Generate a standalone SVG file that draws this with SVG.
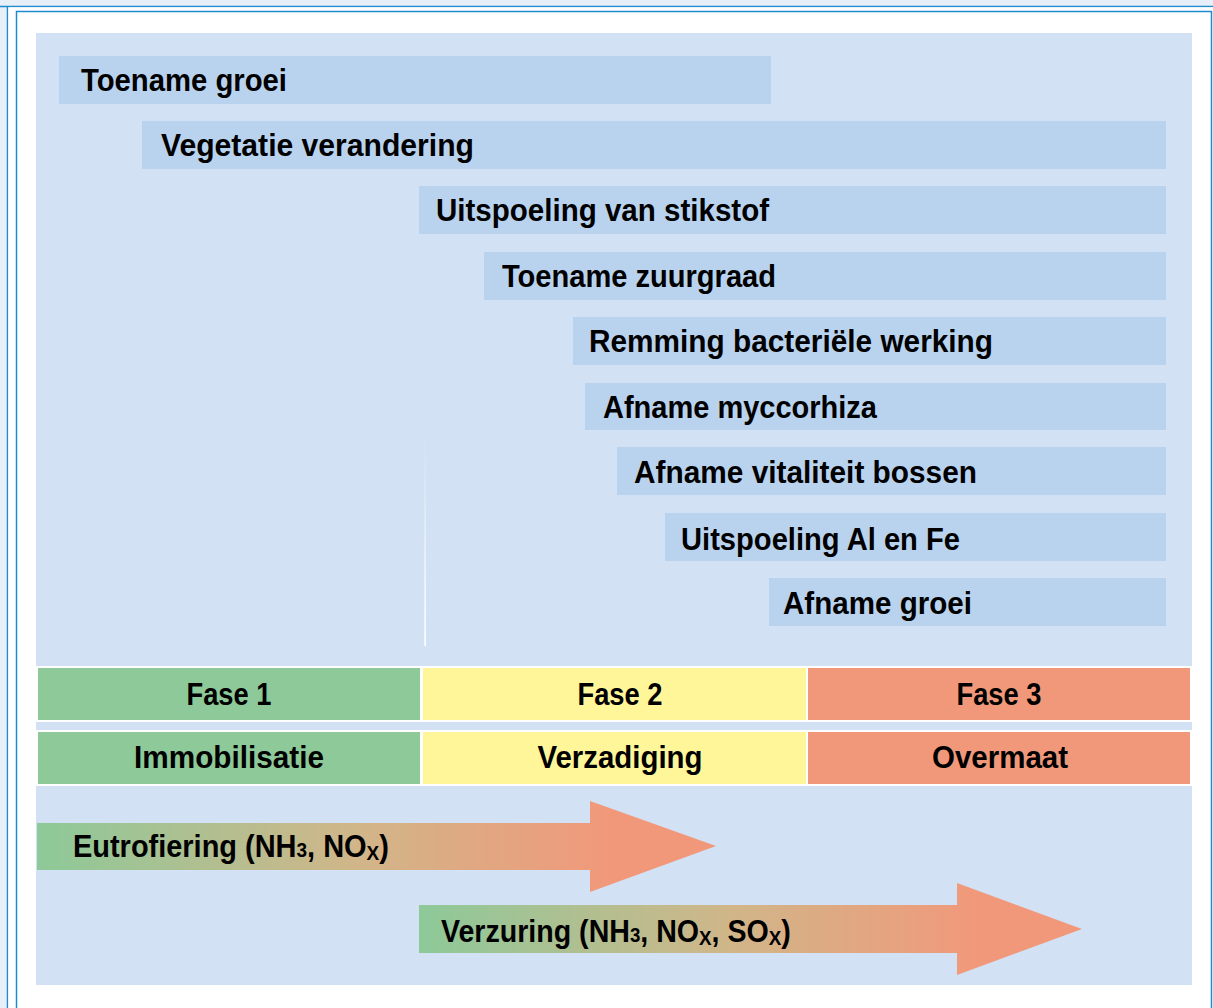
<svg xmlns="http://www.w3.org/2000/svg" width="1213" height="1008" viewBox="0 0 1213 1008">
<defs>
<style>
.bar{fill:#b9d3ef}
.t{font-family:"Liberation Sans",Arial,sans-serif;font-weight:bold;font-size:32px;fill:#000}
.c{text-anchor:middle}
.g{fill:#8dc999;stroke:#fff;stroke-width:2}
.y{fill:#fff69a;stroke:#fff;stroke-width:2}
.r{fill:#f2987a;stroke:#fff;stroke-width:2}
.sub{font-size:21px}
</style>
<linearGradient id="ag" x1="0" y1="0" x2="0.85" y2="0">
<stop offset="0" stop-color="#8dc999"/>
<stop offset="0.55" stop-color="#d0b689"/>
<stop offset="1" stop-color="#f2987a"/>
</linearGradient>
<linearGradient id="vl" x1="0" y1="0" x2="0" y2="1">
<stop offset="0" stop-color="#fff" stop-opacity="0"/>
<stop offset="1" stop-color="#fff" stop-opacity="1"/>
</linearGradient>
</defs>
<rect x="0" y="0" width="1213" height="1008" fill="#e7eff9"/>
<line x1="0" y1="6.5" x2="1213" y2="6.5" stroke="#1e8bd0" stroke-width="1.5"/>
<line x1="7.5" y1="6" x2="7.5" y2="1008" stroke="#1e8bd0" stroke-width="1.5"/>
<rect x="8.3" y="7.3" width="1205" height="1001" fill="#fff"/>
<rect x="16.5" y="11.5" width="1195" height="1010" fill="#fff" stroke="#1e8bd0" stroke-width="1.5"/>
<rect x="36" y="33" width="1156" height="952" fill="#d2e1f4"/>
<rect x="424.3" y="430" width="1.6" height="216" fill="url(#vl)"/>

<g id="bar1"><rect class="bar" x="59" y="56" width="712" height="48"/><text class="t" x="81" y="91" textLength="206" lengthAdjust="spacingAndGlyphs">Toename groei</text></g>
<g id="bar2"><rect class="bar" x="142" y="121" width="1024" height="48"/><text class="t" x="161" y="156" textLength="313" lengthAdjust="spacingAndGlyphs">Vegetatie verandering</text></g>
<g id="bar3"><rect class="bar" x="419" y="186" width="747" height="48"/><text class="t" x="436" y="221" textLength="333" lengthAdjust="spacingAndGlyphs">Uitspoeling van stikstof</text></g>
<g id="bar4"><rect class="bar" x="484" y="252" width="682" height="48"/><text class="t" x="502" y="287" textLength="274" lengthAdjust="spacingAndGlyphs">Toename zuurgraad</text></g>
<g id="bar5"><rect class="bar" x="573" y="317" width="593" height="48"/><text class="t" x="589" y="352" textLength="404" lengthAdjust="spacingAndGlyphs">Remming bacteriële werking</text></g>
<g id="bar6"><rect class="bar" x="585" y="383" width="581" height="47"/><text class="t" x="603" y="418" textLength="274" lengthAdjust="spacingAndGlyphs">Afname myccorhiza</text></g>
<g id="bar7"><rect class="bar" x="617" y="447" width="549" height="48"/><text class="t" x="634" y="483" textLength="343" lengthAdjust="spacingAndGlyphs">Afname vitaliteit bossen</text></g>
<g id="bar8"><rect class="bar" x="665" y="513" width="501" height="48"/><text class="t" x="681" y="550" textLength="279" lengthAdjust="spacingAndGlyphs">Uitspoeling Al en Fe</text></g>
<g id="bar9"><rect class="bar" x="769" y="578" width="397" height="48"/><text class="t" x="783" y="614" textLength="189" lengthAdjust="spacingAndGlyphs">Afname groei</text></g>

<g id="fase1"><rect class="g" x="37" y="667" width="384" height="54"/><text class="t c" x="229" y="705" textLength="85" lengthAdjust="spacingAndGlyphs">Fase 1</text></g>
<g id="fase2"><rect class="y" x="422" y="667" width="385" height="54"/><text class="t c" x="620" y="705" textLength="85" lengthAdjust="spacingAndGlyphs">Fase 2</text></g>
<g id="fase3"><rect class="r" x="807" y="667" width="384" height="54"/><text class="t c" x="999" y="705" textLength="85" lengthAdjust="spacingAndGlyphs">Fase 3</text></g>
<g id="immobilisatie"><rect class="g" x="37" y="731" width="384" height="54"/><text class="t c" x="229" y="768" textLength="190" lengthAdjust="spacingAndGlyphs">Immobilisatie</text></g>
<g id="verzadiging"><rect class="y" x="422" y="731" width="385" height="54"/><text class="t c" x="620" y="768" textLength="165" lengthAdjust="spacingAndGlyphs">Verzadiging</text></g>
<g id="overmaat"><rect class="r" x="807" y="731" width="384" height="54"/><text class="t c" x="1000" y="768" textLength="136" lengthAdjust="spacingAndGlyphs">Overmaat</text></g>

<g id="connectors">
<g id="eutrofiering">
<path d="M37 823 H590 V801 L716 846 L590 892 V870 H37 Z" fill="url(#ag)"/>
<text class="t" transform="translate(73,857) scale(0.905,1)">Eutrofiering (NH<tspan class="sub">3</tspan>, NO<tspan class="sub" dy="3">X</tspan><tspan dy="-3">)</tspan></text>
</g>
<g id="verzuring">
<path d="M419 905 H957 V883 L1082 929 L957 975 V953 H419 Z" fill="url(#ag)"/>
<text class="t" transform="translate(441,942) scale(0.893,1)">Verzuring (NH<tspan class="sub">3</tspan>, NO<tspan class="sub" dy="3">X</tspan><tspan dy="-3">, SO</tspan><tspan class="sub" dy="3">X</tspan><tspan dy="-3">)</tspan></text>
</g>
</g>
</svg>
